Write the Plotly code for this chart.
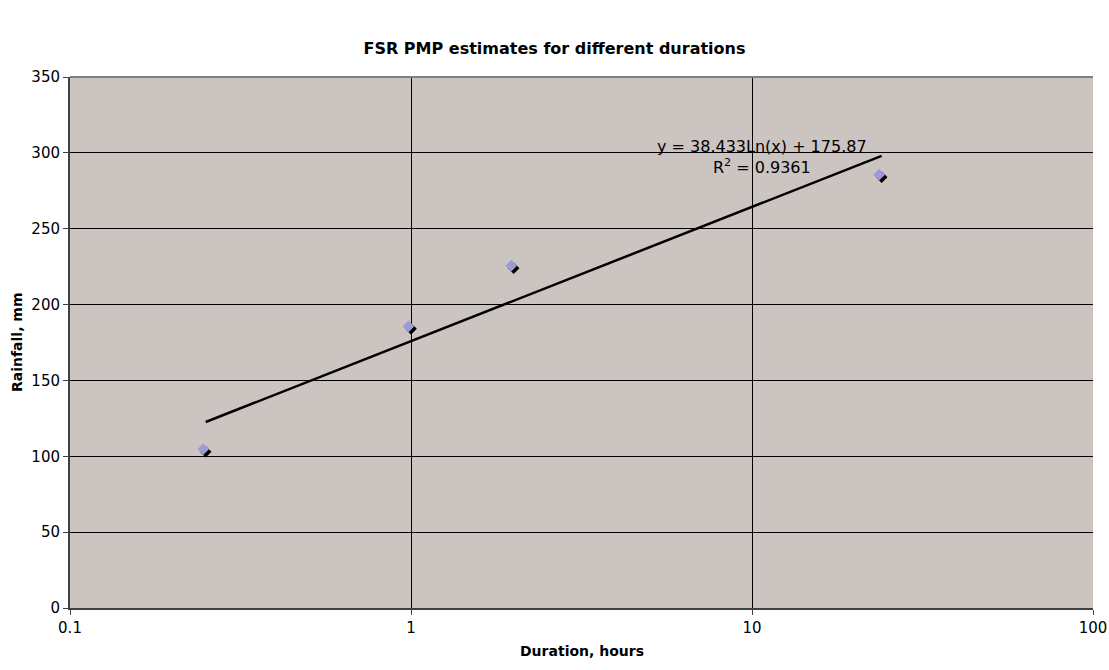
import numpy as np
import plotly.graph_objects as go

# Data
durations = [0.25, 1, 2, 24]
rainfall = [103, 184, 224, 284]
trend_a = 38.433
trend_b = 175.87
r2 = 0.9361
x_tickvals = [0.1, 1, 10, 100]
x_ticktext = ["0.1", "1", "10", "100"]
y_tickvals = [0, 50, 100, 150, 200, 250, 300, 350]

FONT = "DejaVu Sans"
BG = "#CBC4C1"

fig = go.Figure()

# Trendline from stated coefficients
tx = np.exp(np.linspace(np.log(min(durations)), np.log(max(durations)), 50))
ty = trend_a * np.log(tx) + trend_b
fig.add_trace(go.Scatter(x=tx, y=ty, mode="lines",
                         line=dict(color="black", width=2.5),
                         hoverinfo="skip", showlegend=False))

# Black shadow marker at data point
fig.add_trace(go.Scatter(x=durations, y=rainfall, mode="markers",
                         marker=dict(symbol="diamond", size=9, color="black"),
                         showlegend=False))
# Purple marker on slightly shifted overlay axes (up-left)
fig.add_trace(go.Scatter(x=durations, y=rainfall, mode="markers", xaxis="x2", yaxis="y2",
                         marker=dict(symbol="diamond", size=9, color="#9B9BD8"),
                         showlegend=False))

plot_w = 1023
plot_h = 531
dx = 3 * 2.5 / plot_w
dy = 350 * 2.5 / plot_h

fig.update_layout(
    width=1109, height=670,
    margin=dict(l=70, r=16, t=77, b=62),
    paper_bgcolor="white",
    plot_bgcolor=BG,
    font=dict(family=FONT, color="black", size=15),
    title=dict(text="<b>FSR PMP estimates for different durations</b>",
               x=0.5, xanchor="center", y=1 - 48 / 670, yanchor="middle",
               font=dict(size=16, family=FONT)),
    xaxis=dict(type="log", range=[-1, 2], tickvals=x_tickvals, ticktext=x_ticktext,
               showgrid=True, gridcolor="black", gridwidth=1,
               showline=True, linecolor="#404040", linewidth=2,
               ticks="outside", ticklen=5, tickcolor="#404040",
               zeroline=False, mirror=False, automargin=False),
    yaxis=dict(range=[0, 350], tickvals=y_tickvals,
               showgrid=True, gridcolor="black", gridwidth=1,
               showline=True, linecolor="#404040", linewidth=2,
               ticks="outside", ticklen=5, tickcolor="#404040",
               zeroline=False, automargin=False),
    xaxis2=dict(type="log", range=[-1 + dx, 2 + dx], overlaying="x", visible=False),
    yaxis2=dict(range=[0 - dy, 350 - dy], overlaying="y", visible=False),
    shapes=[dict(type="line", xref="paper", yref="paper", x0=0, x1=1, y0=1, y1=1,
                 line=dict(color="#808080", width=2))],
    annotations=[
        dict(xref="paper", yref="paper", x=(762 - 70) / 1023, y=(608 - 157) / 531,
             text=f"y = {trend_a}Ln(x) + {trend_b}<br>R<sup>2</sup> = {r2}",
             showarrow=False, align="center", font=dict(size=16, family=FONT),
             xanchor="center", yanchor="middle"),
        dict(xref="paper", yref="paper", x=0.5, y=(608 - 651) / 531,
             text="<b>Duration, hours</b>", showarrow=False,
             font=dict(size=14, family=FONT), xanchor="center", yanchor="middle"),
        dict(xref="paper", yref="paper", x=(17 - 70) / 1023, y=(608 - 342) / 531,
             text="<b>Rainfall, mm</b>", showarrow=False, textangle=-90,
             font=dict(size=14, family=FONT), xanchor="center", yanchor="middle"),
    ],
)

fig.write_html("out.html")
